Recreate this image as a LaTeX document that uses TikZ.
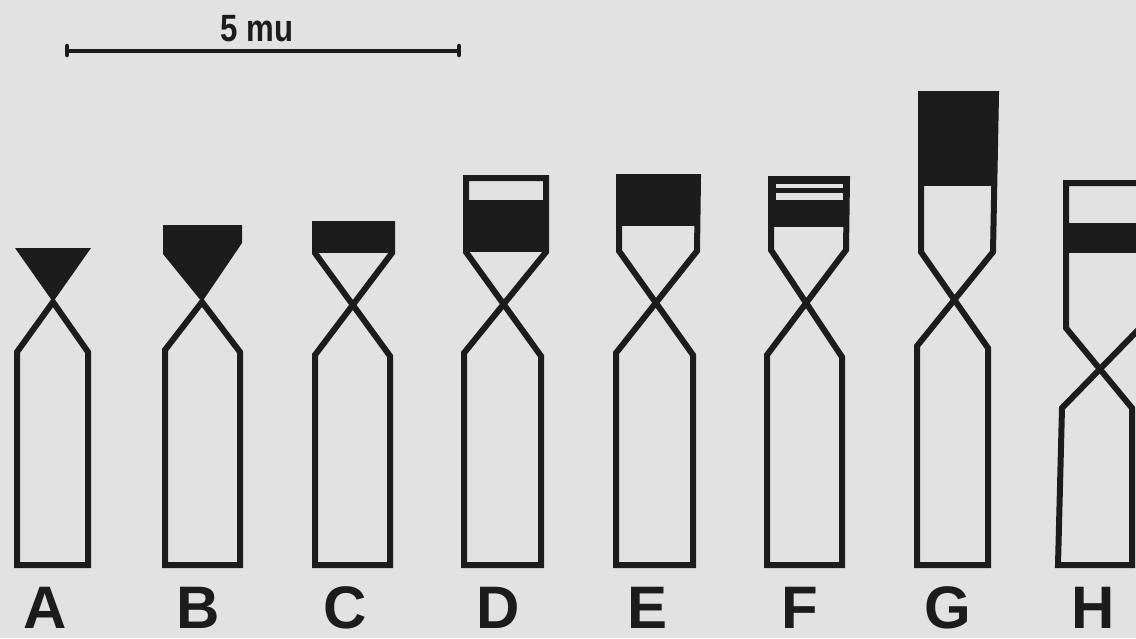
\documentclass[tikz,border=0pt]{standalone}
\usepackage{fontspec}
\setmainfont{Liberation Sans}
\definecolor{paper}{RGB}{226,226,226}
\definecolor{ink}{RGB}{28,28,28}
\tikzset{
  chromo/.style={draw=ink, line width=6pt, line join=miter},
  band/.style={fill=ink},
  gap/.style={fill=paper},
  lettre/.style={font=\bfseries\fontsize{60}{60}\selectfont, text=ink, inner sep=0pt}
}
\begin{document}
\begin{tikzpicture}[x=1pt, y=-1pt]
  % fond
  \fill[paper] (0,0) rectangle (1136,638);
  \useasboundingbox (0,0) rectangle (1136,638);
  \clip (0,0) rectangle (1136,638);

  % Barre d'echelle
  \coordinate (s1) at (67,51);
  \coordinate (s2) at (459,51);
  \draw[ink, line width=3.8pt] (s1) -- (s2);
  \draw[ink, line width=4.5pt, line cap=round] ([yshift=-4]s1) -- ([yshift=5]s1);
  \draw[ink, line width=4.5pt, line cap=round] ([yshift=-4]s2) -- ([yshift=5]s2);
  \node[text=ink, inner sep=0pt, xscale=0.82, font=\bfseries\fontsize{38}{38}\selectfont] (echelle) at (257,29) {5 mu};

  % A : triangle noir
  \fill[ink] (15,248) -- (91,248) -- (53,302) -- cycle;
  \draw[chromo] (53,302) -- (17,352) -- (17,565) -- (88,565) -- (88,352) -- cycle;

  % B : pentagone noir
  \fill[ink] (163,225) -- (242,225) -- (242,243) -- (202,302) -- (163,254) -- cycle;
  \draw[chromo] (202,302) -- (165,350) -- (165,565) -- (240,565) -- (240,352) -- cycle;

  % C
  \fill[band] (315,224) rectangle (392,253);
  \draw[chromo] (315,224) -- (392,224) -- (392,253) -- (315,355) -- (315,565)
    -- (390,565) -- (390,356) -- (315,253) -- cycle;

  % D
  \fill[band] (466,200) rectangle (546,252);
  \draw[chromo] (466,178) -- (546,178) -- (546,252) -- (464,353) -- (464,565)
    -- (541,565) -- (541,356) -- (466,252) -- cycle;

  % E
  \fill[band] (619,177) rectangle (698,226);
  \draw[chromo] (619,177) -- (698,177) -- (697,251) -- (616,353) -- (616,565)
    -- (693,565) -- (693,355) -- (619,251) -- cycle;

  % F : deux bandes claires
  \fill[band] (771,179) rectangle (847,227);
  \fill[gap] (776,183.5) rectangle (843,187.5);
  \fill[gap] (776,193) rectangle (843,199.5);
  \draw[chromo] (771,179) -- (847,179) -- (846,250) -- (767,355) -- (767,565)
    -- (842,565) -- (842,357) -- (771,250) -- cycle;

  % G : grand bloc noir
  \fill[band] (921,94) rectangle (996,186);
  \draw[chromo] (921,94) -- (996,94) -- (993,252) -- (917,346) -- (917,565)
    -- (988,565) -- (988,348) -- (921,252) -- cycle;

  % H : centromere plus bas
  \fill[band] (1066,223) rectangle (1140,253);
  \draw[chromo] (1066,183) -- (1140,183) -- (1140,328) -- (1062,408) -- (1058,565)
    -- (1132,565) -- (1132,408) -- (1066,328) -- cycle;

  % lettres
  \node[lettre] (la) at (45,608) {A};
  \node[lettre] (lb) at (198,608) {B};
  \node[lettre] (lc) at (345,608) {C};
  \node[lettre] (ld) at (498,608) {D};
  \node[lettre] (le) at (648,608) {E};
  \node[lettre] (lf) at (800,608) {F};
  \node[lettre] (lg) at (948,608) {G};
  \node[lettre] (lh) at (1093,608) {H};
\end{tikzpicture}
\end{document}
